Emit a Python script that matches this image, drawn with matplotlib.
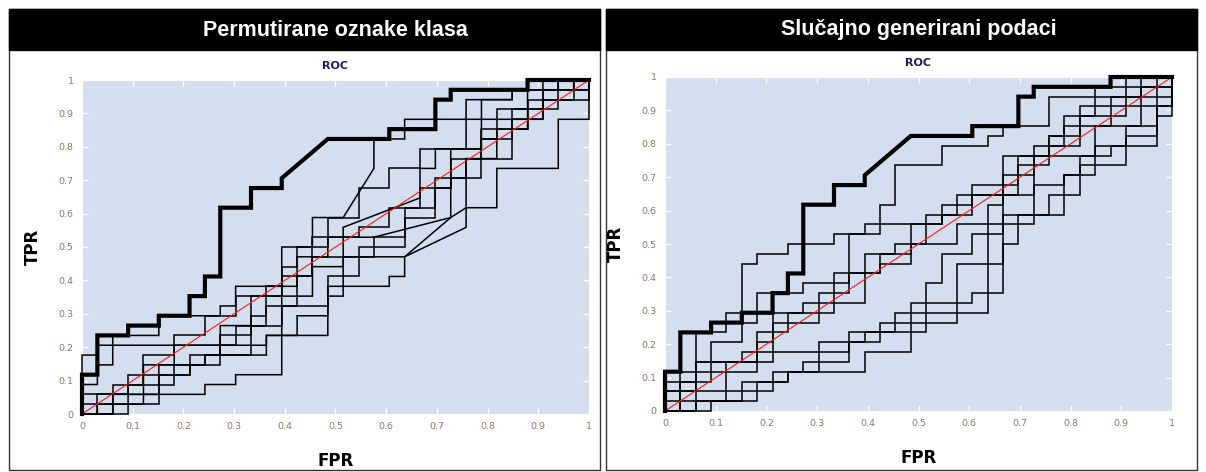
import matplotlib
matplotlib.use("Agg")
import matplotlib.pyplot as plt
import numpy as np
from matplotlib.patches import Rectangle

# ROC curves as (negatives passed, positives passed) counts: 33 negatives, 34 positives
N_NEG = 33
N_POS = 34

# the real classifier, drawn thick in both panels
real_roc = [(0, 0), (0, 4), (1, 4), (1, 8), (3, 8), (3, 9), (5, 9), (5, 10), (7, 10), (7, 12),
            (8, 12), (8, 14), (9, 14), (9, 21), (11, 21), (11, 23), (13, 23), (13, 24), (16, 28),
            (20, 28), (20, 29), (23, 29), (23, 32), (24, 32), (24, 33), (29, 33), (29, 34), (33, 34)]

# left panel: permuted class labels
perm_1 = [(0, 0), (2, 0), (2, 2), (8, 2), (8, 3), (10, 3), (10, 4), (13, 4), (13, 17), (15, 17),
          (15, 20), (17, 20), (19, 25), (19, 28), (21, 28), (21, 30), (25, 30), (25, 32), (28, 32),
          (28, 33), (31, 33), (31, 34), (33, 34)]
perm_2 = [(0, 0), (1, 0), (1, 1), (4, 1), (4, 5), (8, 5), (8, 6), (12, 6), (12, 8), (16, 8),
          (16, 12), (17, 12), (17, 13), (20, 13), (20, 14), (21, 14), (21, 16), (25, 19), (25, 21),
          (27, 21), (27, 25), (31, 25), (31, 30), (33, 30), (33, 34)]
perm_3 = [(0, 0), (0, 6), (1, 6), (1, 7), (2, 7), (2, 8), (5, 8), (5, 10), (9, 10), (9, 11),
          (10, 11), (10, 13), (14, 13), (14, 16), (16, 16), (16, 18), (19, 18), (24, 20), (24, 27),
          (26, 27), (26, 32), (28, 32), (28, 33), (30, 33), (30, 34), (33, 34)]
perm_4 = [(0, 0), (0, 3), (1, 3), (1, 5), (2, 5), (2, 7), (12, 7), (12, 8), (14, 8), (14, 10),
          (16, 10), (16, 13), (17, 13), (17, 16), (21, 16), (24, 20), (25, 21), (25, 26), (27, 26),
          (27, 29), (29, 29), (29, 33), (32, 33), (32, 34), (33, 34)]
perm_5 = [(0, 0), (3, 0), (3, 2), (5, 2), (5, 5), (6, 5), (6, 7), (9, 7), (9, 9), (11, 9),
          (11, 12), (15, 12), (15, 15), (17, 15), (17, 19), (22, 22), (22, 25), (23, 25), (23, 27),
          (25, 27), (25, 30), (30, 30), (30, 33), (33, 33), (33, 34)]
perm_6 = [(0, 0), (1, 0), (1, 2), (3, 2), (3, 3), (5, 3), (5, 4), (7, 4), (7, 5), (9, 5),
          (9, 7), (10, 7), (10, 9), (12, 9), (12, 11), (14, 11), (14, 14), (15, 14), (15, 18),
          (18, 18), (18, 19), (20, 19), (20, 21), (22, 21), (22, 23), (24, 23), (24, 24), (26, 24),
          (26, 28), (28, 28), (28, 31), (31, 31), (31, 33), (33, 33), (33, 34)]
perm_7 = [(0, 0), (0, 2), (3, 2), (3, 4), (4, 4), (4, 6), (6, 6), (6, 8), (8, 8), (8, 10),
          (10, 10), (10, 12), (13, 12), (13, 15), (14, 15), (14, 17), (16, 17), (16, 20), (18, 20),
          (18, 23), (20, 23), (20, 25), (22, 25), (22, 27), (26, 27), (26, 29), (29, 29), (29, 32),
          (33, 32), (33, 34)]
perm_8 = [(0, 0), (2, 0), (2, 1), (5, 1), (5, 3), (6, 3), (6, 5), (8, 5), (8, 6), (11, 6),
          (11, 9), (13, 9), (13, 11), (16, 11), (16, 14), (18, 14), (18, 16), (19, 16), (19, 18),
          (21, 18), (21, 21), (23, 21), (23, 24), (25, 24), (25, 26), (28, 26), (28, 30), (30, 30),
          (30, 32), (32, 32), (32, 34), (33, 34)]
perm_9 = [(0, 0), (0, 1), (2, 1), (2, 3), (4, 3), (4, 4), (7, 4), (7, 6), (9, 6), (9, 8),
          (11, 8), (11, 10), (12, 10), (12, 13), (13, 13), (13, 14), (15, 14), (15, 16), (18, 16),
          (18, 17), (21, 17), (21, 20), (23, 20), (23, 23), (24, 23), (24, 26), (26, 26), (26, 28),
          (27, 28), (27, 31), (30, 31), (30, 33), (31, 33), (31, 34), (33, 34)]

# right panel: randomly generated data
rand_1 = [(0, 0), (2, 0), (2, 8), (4, 8), (4, 10), (5, 10), (5, 15), (6, 15), (6, 16), (8, 16),
          (8, 17), (11, 17), (11, 18), (14, 18), (14, 21), (15, 21), (15, 25), (18, 25), (18, 27),
          (21, 27), (21, 28), (22, 28), (22, 29), (25, 29), (25, 32), (32, 32), (32, 34), (33, 34)]
rand_2 = [(0, 0), (1, 0), (1, 1), (6, 1), (6, 3), (8, 3), (8, 4), (13, 4), (13, 6), (16, 6),
          (16, 9), (19, 9), (19, 15), (22, 15), (22, 26), (28, 26), (28, 29), (31, 29), (31, 31),
          (33, 31), (33, 34)]
rand_3 = [(0, 0), (0, 2), (2, 2), (2, 5), (7, 5), (7, 6), (10, 6), (10, 7), (13, 7), (13, 8),
          (17, 8), (17, 10), (21, 10), (21, 15), (21, 19), (24, 19), (24, 23), (26, 23), (26, 24),
          (27, 24), (27, 26), (29, 26), (29, 27), (32, 27), (32, 32), (33, 32), (33, 34)]
rand_4 = [(0, 0), (1, 0), (1, 2), (4, 2), (4, 4), (6, 4), (6, 7), (7, 7), (7, 9), (10, 9),
          (10, 12), (12, 12), (12, 14), (14, 14), (14, 16), (16, 16), (16, 19), (18, 19), (18, 21),
          (20, 21), (20, 23), (23, 23), (23, 26), (25, 26), (25, 28), (27, 28), (27, 30), (30, 30),
          (30, 33), (33, 33), (33, 34)]
rand_5 = [(0, 0), (2, 0), (2, 1), (4, 1), (4, 2), (7, 2), (7, 4), (9, 4), (9, 5), (12, 5),
          (12, 7), (14, 7), (14, 9), (16, 9), (16, 11), (20, 11), (20, 12), (22, 12), (22, 17),
          (23, 17), (23, 20), (26, 20), (26, 24), (28, 24), (28, 27), (30, 27), (30, 29), (32, 29),
          (32, 30), (33, 30), (33, 34)]
rand_6 = [(0, 0), (0, 1), (1, 1), (1, 3), (3, 3), (3, 7), (5, 7), (5, 9), (6, 9), (6, 12),
          (9, 12), (9, 13), (12, 13), (12, 18), (13, 18), (13, 19), (18, 19), (18, 20), (20, 20),
          (20, 22), (24, 22), (24, 26), (25, 26), (25, 28), (26, 28), (26, 29), (29, 29), (29, 32),
          (31, 32), (31, 34), (33, 34)]
rand_7 = [(0, 0), (0, 2), (1, 2), (1, 3), (2, 3), (2, 5), (5, 5), (5, 6), (7, 6), (7, 8),
          (8, 8), (8, 10), (11, 10), (11, 11), (13, 11), (13, 14), (14, 14), (14, 15), (16, 15),
          (16, 17), (19, 17), (19, 19), (21, 19), (21, 21), (22, 21), (22, 24), (24, 24), (24, 27),
          (27, 27), (27, 31), (31, 31), (31, 33), (33, 33), (33, 34)]
rand_8 = [(0, 0), (3, 0), (3, 1), (5, 1), (5, 3), (8, 3), (8, 4), (10, 4), (10, 6), (12, 6),
          (12, 8), (15, 8), (15, 10), (17, 10), (17, 13), (18, 13), (18, 16), (20, 16), (20, 18),
          (22, 18), (22, 20), (25, 20), (25, 22), (27, 22), (27, 25), (30, 25), (30, 28), (32, 28),
          (32, 31), (33, 31), (33, 34)]
rand_9 = [(0, 0), (0, 3), (1, 3), (1, 4), (4, 4), (4, 5), (6, 5), (6, 8), (7, 8), (7, 10),
          (9, 10), (9, 11), (11, 11), (11, 14), (13, 14), (13, 16), (15, 16), (15, 17), (17, 17),
          (17, 20), (19, 20), (19, 22), (23, 22), (23, 25), (25, 25), (25, 27), (26, 27), (26, 30),
          (28, 30), (28, 33), (30, 33), (30, 34), (33, 34)]

panel_titles = ["Permutirane oznake klasa", "Slučajno generirani podaci"]
perm_curves = [perm_1, perm_2, perm_3, perm_4, perm_5, perm_6, perm_7, perm_8, perm_9]
rand_curves = [rand_1, rand_2, rand_3, rand_4, rand_5, rand_6, rand_7, rand_8, rand_9]
tick_values = [0, 0.1, 0.2, 0.3, 0.4, 0.5, 0.6, 0.7, 0.8, 0.9, 1]
tick_labels = ["0", "0.1", "0.2", "0.3", "0.4", "0.5", "0.6", "0.7", "0.8", "0.9", "1"]

W, H = 1206, 472
BG = "#d3deef"
TICK_TEXT = "#8c7a62"


def fx(px):
    return px / W


def fy(py):
    return 1 - py / H


def to_rates(curve):
    pts = np.array(curve, dtype=float)
    return pts[:, 0] / N_NEG, pts[:, 1] / N_POS


def draw_panel(fig, box, ax_rect, title, curves):
    x0, x1 = box
    # white panel with thin border and black title bar, kept behind the axes
    fig.patches.append(Rectangle((fx(x0), fy(470)), fx(x1 - x0), (470 - 9) / H,
                                 transform=fig.transFigure, facecolor="white",
                                 edgecolor="#333333", linewidth=1.0, zorder=-2))
    fig.patches.append(Rectangle((fx(x0), fy(50)), fx(x1 - x0), 41 / H,
                                 transform=fig.transFigure, facecolor="black",
                                 edgecolor="black", linewidth=1.0, zorder=-1))

    ax = fig.add_axes(ax_rect)
    ax.set_zorder(2)
    ax.set_facecolor(BG)
    for curve in curves:
        fpr, tpr = to_rates(curve)
        ax.plot(fpr, tpr, color="black", linewidth=1.1, solid_joinstyle="miter",
                clip_on=False, zorder=3)
    ax.plot([0, 1], [0, 1], color="#ff1a1a", linewidth=0.8, zorder=4)
    fpr, tpr = to_rates(real_roc)
    ax.plot(fpr, tpr, color="black", linewidth=3.0, solid_joinstyle="miter",
            clip_on=False, zorder=5)

    ax.set_xlim(0, 1)
    ax.set_ylim(0, 1)
    ax.set_xticks(tick_values)
    ax.set_yticks(tick_values)
    ax.set_xticklabels(tick_labels)
    ax.set_yticklabels(tick_labels)
    ax.tick_params(direction="in", length=4, width=1, color="white", top=True, right=True,
                   labelsize=6.8, labelcolor=TICK_TEXT, pad=6)
    for spine in ax.spines.values():
        spine.set_color("white")
        spine.set_linewidth(0.8)

    ax.set_title("ROC", fontsize=8, fontweight="bold", color="#1c1c5a", pad=8)
    ax.set_xlabel("FPR", fontsize=12, fontweight="bold")
    ax.set_ylabel("TPR", fontsize=12, fontweight="bold")
    ax.xaxis.set_label_coords(0.5, -0.114)
    ax.yaxis.set_label_coords(-0.079, 0.5)

    left, bottom, width, height = ax_rect
    fig.text(left + width / 2, fy(30), title, color="white", fontsize=15.5,
             fontweight="bold", ha="center", va="center", family="Liberation Sans")
    return ax


def main():
    fig = plt.figure(figsize=(W / 100, H / 100), dpi=100)
    draw_panel(fig, (9, 600), [fx(82), fy(414), fx(507), 334 / H], panel_titles[0], perm_curves)
    draw_panel(fig, (606, 1197), [fx(665), fy(411), fx(507), 334 / H], panel_titles[1], rand_curves)
    fig.savefig("out.png", dpi=100)
    plt.close(fig)


if __name__ == "__main__":
    main()
